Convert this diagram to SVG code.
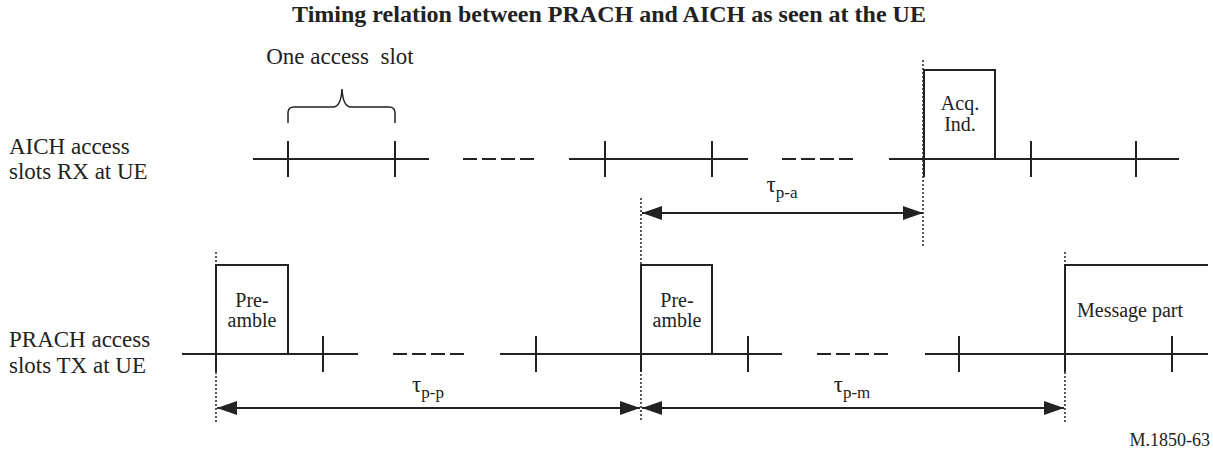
<svg xmlns="http://www.w3.org/2000/svg" width="1213" height="452" viewBox="0 0 1213 452" font-family="'Liberation Serif', 'Times New Roman', serif">
<style>
.ln{stroke:#222;stroke-width:2;fill:none}
.dash{stroke:#222;stroke-width:2;fill:none;stroke-dasharray:14 5}
.dot{stroke:#222;stroke-width:1.5;fill:none;stroke-dasharray:2 2}
.box{stroke:#222;stroke-width:2;fill:#fff}
text{font-family:'Liberation Serif','Times New Roman',serif;fill:#222}
.lbl{font-size:23px}
.bx{font-size:20px;text-anchor:middle}
.tau{font-size:23px;text-anchor:middle}
.sub{font-size:17px}
</style>
<defs>
<marker id="ah" markerUnits="userSpaceOnUse" markerWidth="20" markerHeight="14" refX="20" refY="7" orient="auto-start-reverse">
<path d="M0,0 L20,7 L0,14 Z" fill="#222"/>
</marker>
</defs>
<text x="609" y="22" text-anchor="middle" style="font-size:24px;font-weight:bold" fill="#000">Timing relation between PRACH and AICH as seen at the UE</text>
<g id="label-aich">
<text class="lbl" x="9" y="154">AICH access</text>
<text class="lbl" x="9" y="179">slots RX at UE</text>
</g>
<g id="label-prach">
<text class="lbl" x="9" y="347">PRACH access</text>
<text class="lbl" x="9" y="373">slots TX at UE</text>
</g>
<g id="one-access-slot">
<text class="lbl" x="340" y="64" text-anchor="middle" xml:space="preserve">One access  slot</text>
<path class="ln" style="stroke-width:1.5" d="M288,123 L288,113 Q288,107 294,107 L333,107 Q341,107 342,89 Q343,107 351,107 L389,107 Q395,107 395,113 L395,123"/>
</g>
<g id="aich-timeline">
<path class="ln" d="M253,159 H429 M288,141 V177 M395,141 V177"/>
<path class="dash" d="M463,159 H535"/>
<path class="ln" d="M569,159 H748 M605,141 V177 M712,141 V177"/>
<path class="dash" d="M782,159 H854"/>
<path class="ln" d="M889,159 H1179 M924,159 V177 M1031,141 V177 M1136,141 V177"/>
</g>
<g id="acq-ind">
<rect class="box" x="924" y="70" width="71" height="89"/>
<text class="bx" x="960" y="110">Acq.</text>
<text class="bx" x="960" y="131">Ind.</text>
</g>
<g id="prach-timeline">
<path class="ln" d="M182,354 H358 M216,354 V372 M323,336 V372"/>
<path class="dash" d="M393,354 H465"/>
<path class="ln" d="M500,354 H782 M536,336 V372 M641,354 V372 M748,336 V372"/>
<path class="dash" d="M817,354 H888"/>
<path class="ln" d="M925,354 H1208 M959,336 V372 M1065,354 V372 M1172,336 V372"/>
</g>
<g id="preamble-1">
<rect class="box" x="216" y="265" width="72" height="89"/>
<text class="bx" x="252" y="307">Pre-</text>
<text class="bx" x="252" y="327">amble</text>
</g>
<g id="preamble-2">
<rect class="box" x="641" y="265" width="71" height="89"/>
<text class="bx" x="677" y="307">Pre-</text>
<text class="bx" x="677" y="327">amble</text>
</g>
<g id="message-part">
<path class="ln" d="M1065,354 V265 H1208"/>
<text x="1077" y="317" style="font-size:20px">Message part</text>
</g>
<g id="connectors">
<path class="dot" d="M923,60 V247"/>
<path class="dot" d="M641,198 V422"/>
<path class="dot" d="M216,252 V422"/>
<path class="dot" d="M1065,252 V422"/>
<line x1="642" y1="213" x2="923" y2="213" class="ln" marker-start="url(#ah)" marker-end="url(#ah)"/>
<line x1="217" y1="408" x2="640" y2="408" class="ln" marker-start="url(#ah)" marker-end="url(#ah)"/>
<line x1="642" y1="408" x2="1064" y2="408" class="ln" marker-start="url(#ah)" marker-end="url(#ah)"/>
</g>
<g id="tau-labels">
<text class="tau" x="782" y="192">τ<tspan class="sub" dy="6">p-a</tspan></text>
<text class="tau" x="428" y="392">τ<tspan class="sub" dy="6">p-p</tspan></text>
<text class="tau" x="852" y="392">τ<tspan class="sub" dy="6">p-m</tspan></text>
</g>
<text x="1210" y="446" text-anchor="end" style="font-size:18px">M.1850-63</text>
</svg>
